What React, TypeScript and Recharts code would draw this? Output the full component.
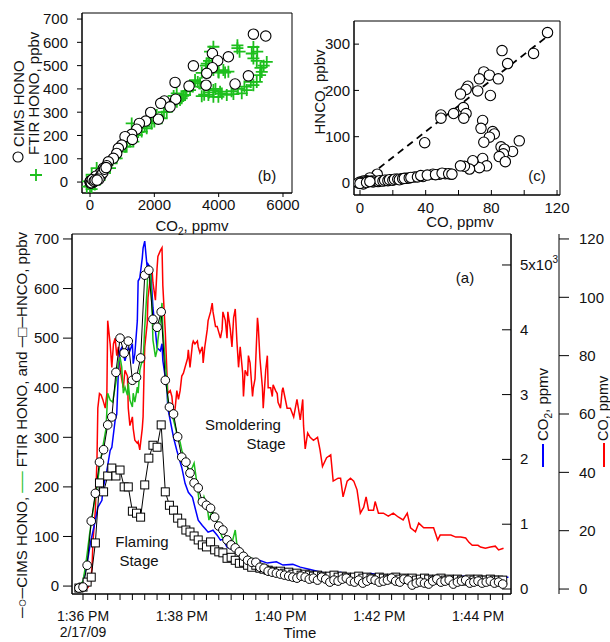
import React from "react"
import {
  LineChart,
  Line,
  ScatterChart,
  Scatter,
  XAxis,
  YAxis,
  ReferenceArea,
  ReferenceLine,
} from "recharts"

const FONT = "'Liberation Sans', Arial, Helvetica, sans-serif"
const GREEN = "#1dbf1d"
const BLUE = "#0000ff"
const RED = "#ff0000"
const INK = "#111"

// ---- panel (a): seconds after 1:36:00 PM ----
// CIMS HONO and HNCO sampled every 5 s, starting at -5 s
const cimsHono = [
  -4, -2, 42, 131, 187, 250, 275, 325, 341, 431,
  500, 470, 494, 415, 421, 460, 627, 637, 538, 522,
  553, 415, 361, 347, 301, 260, 250, 228, 208, 198,
  170, 163, 157, 139, 121, 113, 93, 83, 77, 69,
  60, 52, 48, 48, 38, 36, 30, 28, 26, 24,
  22, 20, 18, 16, 20, 18, 14, 16, 12, 18,
  14, 8, 12, 10, 14, 16, 10, 8, 12, 6,
  10, 14, 12, 8, 10, 12, 16, 10, 8, 14,
  12, 2, 6, 8, 6, 4, 10, 14, 8, 10,
  12, 4, 8, 10, 12, 6, 8, 10, 6, 8,
  10, 6, 8, 4,
]
const hncoPpbv = [
  -4, -2, 8, 18, 87, 208, 190, 222, 238, 222,
  234, 200, 200, 151, 147, 139, 204, 258, 284, 280,
  325, 190, 163, 153, 137, 127, 113, 109, 101, 93,
  83, 79, 89, 73, 69, 67, 56, 58, 52, 46,
  48, 42, 38, 42, 36, 34, 32, 30, 28, 30,
  26, 28, 24, 26, 22, 24, 22, 20, 22, 20,
  18, 20, 22, 18, 20, 18, 16, 18, 20, 16,
  18, 16, 14, 18, 16, 14, 16, 18, 14, 16,
  14, 16, 12, 14, 16, 14, 12, 14, 16, 12,
  14, 12, 14, 12, 10, 14, 12, 14, 12, 12,
  14, 12, 12, 12,
]

const ftirTime = [
  -5, 0, 3, 5, 8, 12, 17, 20, 24, 28,
  30, 33, 36, 41, 43, 45, 47, 49, 51, 54,
  55, 57, 60, 61, 63, 66, 67, 69, 72, 73,
  75, 78, 79, 82, 84, 85, 88, 90, 91, 94,
  96, 97, 100, 102, 103, 106, 110, 114, 118, 120,
  124, 127, 129, 133, 135, 139, 141, 145, 147, 151,
  153, 157, 159, 163, 166, 169, 172, 175, 178, 181,
  185, 187, 191, 195, 200, 203, 209, 215, 222, 228,
  234, 240, 246, 252, 258, 264, 270, 276, 282, 288,
  294, 300, 306, 312, 318, 324, 330, 336, 342, 348,
  354, 360, 366, 372, 378, 384, 390, 396, 402, 408,
  414, 420, 426, 432, 438, 444, 450, 456, 462, 468,
  474, 480, 486, 492, 498, 504, 510,
]
const ftirHono = [
  0, 10, 40, 65, 105, 150, 200, 240, 280, 318,
  389, 375, 371, 421, 450, 462, 442, 389, 401, 385,
  409, 375, 361, 389, 371, 401, 389, 435, 456, 450,
  522, 603, 643, 637, 550, 496, 462, 476, 496, 536,
  571, 516, 450, 415, 375, 355, 335, 308, 290, 274,
  254, 240, 228, 240, 248, 200, 173, 167, 180, 159,
  133, 153, 147, 133, 113, 99, 93, 99, 93, 87,
  113, 83, 73, 67, 56, 58, 50, 42, 36, 30,
  26, 28, 22, 18, 16, 20, 14, 12, 16, 10,
  14, 8, 12, 16, 10, 8, 12, 6, 10, 14,
  8, 10, 12, 6, 10, 14, 8, 6, 12, 4,
  8, 10, 6, 12, 8, 4, 10, 14, 8, 6,
  10, 12, 6, 8, 12, 6, 8,
]

const co2Time = [
  -4, -1, 5, 9, 15, 18, 23, 24, 29, 33,
  35, 39, 41, 43, 45, 47, 51, 55, 57, 60,
  61, 63, 66, 67, 69, 72, 73, 75, 78, 79,
  82, 84, 85, 88, 90, 94, 96, 97, 100, 102,
  103, 106, 110, 114, 120, 124, 128, 133, 136, 140,
  145, 148, 152, 158, 163, 167, 170, 175, 183, 191,
  203, 215, 224, 235, 243, 255, 264, 276, 292, 305,
  313, 321, 337, 350, 361, 375, 386, 400, 410, 425,
  447, 460, 483, 500, 517,
]
const co2Ppmv = [
  0, 50, 400, 707, 1061, 1261, 1369, 1523, 1830, 2138,
  2184, 2600, 2700, 3368, 3676, 3722, 3522, 3722, 3676, 3784,
  3476, 3630, 4137, 4752, 4800, 5106, 5260, 5368, 4953, 5014,
  4953, 4553, 4337, 3984, 3722, 3676, 3784, 3522, 3261, 3107,
  2800, 2600, 2338, 2138, 1876, 1630, 1492, 1415, 1261, 1061,
  980, 938, 877, 907, 831, 754, 770, 646, 600, 554,
  470, 440, 400, 420, 369, 380, 338, 300, 250, 240,
  260, 230, 225, 240, 215, 210, 200, 205, 195, 200,
  190, 195, 185, 188, 180,
]

const coTime = [
  -5, 6, 9, 11, 12, 15, 17, 18, 20, 22,
  24, 27, 29, 30, 33, 35, 37, 39, 41, 43,
  45, 47, 49, 51, 54, 55, 57, 60, 61, 63,
  66, 67, 69, 72, 73, 74, 75, 78, 79, 82,
  84, 85, 88, 90, 91, 94, 96, 97, 100, 102,
  103, 106, 108, 110, 112, 114, 116, 118, 120, 122,
  124, 127, 128, 130, 133, 134, 136, 139, 140, 142,
  145, 146, 148, 151, 152, 155, 157, 158, 161, 163,
  164, 167, 169, 170, 173, 175, 176, 179, 181, 183,
  185, 187, 189, 191, 194, 195, 197, 200, 201, 203,
  206, 207, 209, 212, 213, 215, 218, 219, 222, 224,
  225, 228, 230, 231, 234, 236, 237, 240, 242, 243,
  248, 252, 256, 260, 264, 267, 268, 270, 273, 276,
  280, 285, 288, 291, 296, 301, 304, 310, 313, 316,
  321, 325, 329, 333, 337, 341, 344, 347, 353, 355,
  359, 365, 371, 377, 383, 389, 394, 398, 404, 408,
  414, 420, 426, 431, 434, 441, 447, 453, 459, 465,
  469, 473, 480, 483, 489, 495, 501, 505, 511,
]
const coPpmv = [
  0, 0.5, 2, 7.5, 16, 27, 45, 62, 67, 66.5,
  65, 62, 67, 92, 84, 76, 84, 86, 80, 83,
  76, 72, 69, 75, 73, 62, 56, 59, 55, 51,
  50, 50.5, 47.7, 55, 59, 72, 83, 91, 100, 107,
  109, 105, 99, 110, 114, 116, 117, 104, 88, 74,
  67, 68, 66, 60, 62, 68, 65, 68, 73, 74,
  76, 79, 82, 76, 84, 85, 84, 85, 83, 81,
  83, 77.5, 83, 89, 92, 95, 98, 95, 90, 90,
  89, 86, 89, 95, 92, 86, 95, 89, 83, 93,
  96, 85, 76, 83, 74, 66, 75, 73, 80, 77.5,
  66, 69, 72, 93, 90, 79, 69, 62, 75, 80,
  69, 69, 66, 70, 68, 67, 64, 62, 68, 69,
  62, 62, 59, 65, 58, 65, 56, 48, 53.5, 52,
  51, 52, 47.7, 42, 45, 46, 37, 38, 38, 31.6,
  37, 38, 37, 34, 26, 28, 31.6, 27, 27, 30,
  26, 26, 25, 26, 24.7, 23.7, 26, 21, 19.6, 22.6,
  21, 21, 21, 16.8, 18.5, 18.5, 18.5, 17.8, 17.8, 17.5,
  16, 15, 15, 14.4, 14, 14.4, 14.7, 13.4, 14,
]

const timeTickValues = [0, 2, 4, 6, 8]
const timeTickLabels = ["1:36 PM", "1:38 PM", "1:40 PM", "1:42 PM", "1:44 PM"]
const dateLabel = "2/17/09"

// ---- panel (b): CO2 ppmv vs HONO ppbv ----
const cimsCo2 = [
  5080, 5464, 3805, 4302, 3970, 3214, 3805, 3629, 4924, 4510,
  3608, 3079, 2644, 2664, 2311, 2198, 2488, 2125, 1887, 1732,
  1534, 1452, 1296, 1089, 1317, 985, 881, 829, 726, 570,
  518, 415, 311, 207, 0, 30, 60, 100, 150, 20,
  50, 80, 120, 200, 250, 180, 90, 10, 40, 70,
  130, 160, 300, 350, 400, 450, 500, 280, 220,
]
const cimsHonoB = [
  635, 627, 552, 538, 521, 499, 491, 467, 456, 421,
  416, 412, 428, 356, 348, 338, 323, 270, 299, 262,
  252, 227, 205, 195, 183, 159, 145, 123, 102, 87,
  70, 59, 37, 23, 0, 5, 8, 12, 18, -5,
  2, 4, 6, 10, 15, 25, -2, 3, -3, 10,
  3, 8, 20, 30, 40, 55, 62, 12, 8,
]
const ftirCo2 = [
  4583, 4583, 5080, 5029, 5080, 5184, 5495, 5340, 5288, 5184,
  5080, 4873, 4718, 4459, 4252, 4044, 3836, 3681, 3474, 3836,
  3991, 3551, 3421, 3836, 3991, 4147, 4302, 3629, 3784, 3836,
  3732, 3474, 3266, 3110, 2955, 2799, 2696, 2592, 2385, 2229,
  2074, 1918, 1763, 1607, 1452, 1296, 1244, 1089, 933, 778,
  622, 466, 311, 155, 0, -104, 52, 207, 363, 622,
  829, 1140, 1348, 2500, 2600, 2300, 2000, 1700, 1500, 1200,
  1000, 700, 500, 400, 250, 100, 3900, 4100, 4400, 4600,
  4800, 5000, 3700, 3550, 3350, 3200, 3000, 2850, 2700, 3600,
  3700, 4200, 4000, 5300, 5200, 5400, 4650, -100, 50, 150,
  300, 2900,
]
const ftirHonoB = [
  575, 587, 580, 552, 531, 520, 516, 473, 459, 430,
  416, 395, 381, 378, 374, 388, 395, 374, 369, 366,
  366, 402, 424, 481, 474, 481, 474, 509, 531, 581,
  560, 469, 438, 395, 374, 352, 381, 338, 302, 274,
  288, 252, 231, 217, 202, 252, 181, 152, 131, 102,
  81, 52, 30, 9, -18, 3, 32, 60, 38, 60,
  102, 152, 174, 330, 370, 300, 260, 240, 215, 190,
  160, 95, 70, 48, 25, 5, 400, 380, 390, 400,
  410, 430, 385, 375, 430, 410, 390, 360, 345, 500,
  520, 470, 470, 490, 560, 500, 560, -20, -30, -10,
  10, 370,
]

// ---- panel (c): CO ppmv vs HNCO ppbv ----
const scatterCo = [
  114.2, 105.7, 86.5, 89.9, 75.4, 78.8, 72.7, 84.2, 65.7, 64.6,
  71.7, 79.4, 61.2, 63, 64.6, 63.2, 57, 49.3, 49.3, 39.4,
  74.7, 73.7, 80.8, 81.8, 78.8, 75.4, 97, 92.9, 85.9, 87.9,
  87.3, 84.8, 88.5, 74.7, 77.1, 72.7, 68.7, 66.7, 63.6, 61.2,
  55.6, 52, 48.5, 44.4, 38.4, 33.3, 28.3, 25.2, 22.2, 19.2,
  16.2, 13.1, 10.1, 10.5, 6, 4, 2, 0, -1, 1,
  3, 5, 7, 8, 9, 11, 12, 14, 15, 17,
  18, 20, 21, 23, 24, 26, 27, 30, 31, 35,
  37, 41, 46, 50, 54, 56, 2, 0, 4, 6,
]
const scatterHnco = [
  325, 280, 286, 258, 240, 233, 225, 225, 209, 202,
  199, 189, 192, 163, 150, 140, 150, 147, 140, 87,
  135, 118, 111, 106, 99, 88, 91, 68, 78, 73,
  63, 57, 46, 53, 37, 33, 48, 30, 36, 37,
  19, 20, 19, 19, 14, 13, 10, 9, 8, 7,
  6, 5, 6, 19, 11, 5, 4, 2, 0, 1,
  2, 3, 4, 2, 4, 3, 5, 4, 6, 5,
  7, 6, 8, 8, 7, 9, 10, 11, 12, 13,
  16, 17, 18, 21, 20, 19, -2, -1, 1, 3,
]
const fitEnd = { co: 117, hnco: 325 }

// domains
const A_X = [-0.223, 8.668]
const A_LEFT = [-16, 710]
const A_CO2 = [-77, 5478]
const A_CO = [-1.7, 121.7]
const B_X = [-249, 6280]
const B_Y = [-47, 726]
const C_X = [-3.65, 121.8]
const C_Y = [-26, 350]

const cimsData = cimsHono.map((v, i) => ({ t: (i * 5 - 5) / 60, v }))
const hncoData = hncoPpbv.map((v, i) => ({ t: (i * 5 - 5) / 60, v }))
const ftirData = ftirTime.map((s, i) => ({ t: s / 60, v: ftirHono[i] }))
const co2Data = co2Time.map((s, i) => ({ t: s / 60, v: co2Ppmv[i] }))
const coData = coTime.map((s, i) => ({ t: s / 60, v: coPpmv[i] }))
const bCims = cimsCo2.map((x, i) => ({ x, y: cimsHonoB[i] }))
const bFtir = ftirCo2.map((x, i) => ({ x, y: ftirHonoB[i] }))
const cPts = scatterCo.map((x, i) => ({ x, y: scatterHnco[i] }))

const timeTicks = Array.from({ length: 35 }, (_, i) => i * 0.25)

const tickStyle = { fontSize: 15, fill: INK }

function TimeTick(props: any) {
  const { x, y, payload } = props
  const i = timeTickValues.indexOf(payload.value)
  if (i < 0) return <g />
  return (
    <g>
      <text x={x} y={y + 21} textAnchor="middle" fontSize={14} fill={INK}>
        {timeTickLabels[i]}
      </text>
      {i === 0 && (
        <text x={x} y={y + 37} textAnchor="middle" fontSize={14} fill={INK}>
          {dateLabel}
        </text>
      )}
    </g>
  )
}

function Co2Tick(props: any) {
  const { x, y, payload } = props
  const k = payload.value / 1000
  return (
    <text x={x} y={y + 5} fontSize={15} fill={INK}>
      {k === 5 ? (
        <>
          5x10<tspan dy={-7} fontSize={10}>3</tspan>
        </>
      ) : (
        k
      )}
    </text>
  )
}

const circleDot = (p: any) => (
  <circle key={`c${p.index}`} cx={p.cx} cy={p.cy} r={4.3} fill="#fff" stroke="#000" strokeWidth={1} />
)
const squareDot = (p: any) => (
  <rect key={`s${p.index}`} x={p.cx - 4} y={p.cy - 4} width={8} height={8} fill="#fff" stroke="#000" strokeWidth={1} />
)
const openCircle = (p: any) => (
  <circle cx={p.cx} cy={p.cy} r={5.2} fill="#fff" stroke="#000" strokeWidth={1.1} />
)
const greenPlus = (p: any) => (
  <path
    d={`M${p.cx - 6},${p.cy}H${p.cx + 6}M${p.cx},${p.cy - 6}V${p.cy + 6}`}
    stroke={GREEN}
    strokeWidth={1.8}
    fill="none"
  />
)

function PanelB() {
  return (
    <ScatterChart width={300} height={215} margin={{ top: 13, right: 8, bottom: 0, left: 0 }}>
      <XAxis
        type="number"
        dataKey="x"
        domain={B_X}
        allowDataOverflow
        ticks={[0, 2000, 4000, 6000]}
        height={22}
        tickSize={4}
        tickMargin={2}
        stroke="#000"
        tick={tickStyle}
      />
      <YAxis
        type="number"
        dataKey="y"
        domain={B_Y}
        allowDataOverflow
        ticks={[0, 100, 200, 300, 400, 500, 600, 700]}
        width={82}
        tickSize={5}
        tickMargin={9}
        stroke="#000"
        tick={tickStyle}
      />
      <ReferenceArea x1={B_X[0]} x2={B_X[1]} y1={B_Y[0]} y2={B_Y[1]} fill="none" stroke="#000" />
      <Scatter data={bFtir} shape={greenPlus} isAnimationActive={false} />
      <Scatter data={bCims} shape={openCircle} isAnimationActive={false} />
    </ScatterChart>
  )
}

function PanelC() {
  return (
    <ScatterChart width={310} height={225} margin={{ top: 21, right: 50, bottom: 0, left: 0 }}>
      <XAxis
        type="number"
        dataKey="x"
        domain={C_X}
        allowDataOverflow
        ticks={[0, 20, 40, 60, 80, 100, 120]}
        interval={0}
        tickFormatter={(v: number) => (v % 40 === 0 ? String(v) : "")}
        height={30}
        tickSize={-5}
        tickMargin={12}
        stroke="#000"
        tick={tickStyle}
      />
      <YAxis
        type="number"
        dataKey="y"
        domain={C_Y}
        allowDataOverflow
        ticks={[0, 100, 200, 300]}
        width={54}
        tickSize={-5}
        tickMargin={9}
        stroke="#000"
        tick={tickStyle}
      />
      <ReferenceArea x1={C_X[0]} x2={C_X[1]} y1={C_Y[0]} y2={C_Y[1]} fill="none" stroke="#000" />
      <ReferenceLine
        segment={[
          { x: 0, y: 0 },
          { x: fitEnd.co, y: fitEnd.hnco },
        ]}
        stroke="#000"
        strokeWidth={1.8}
        strokeDasharray="7 5"
      />
      <Scatter data={cPts} shape={openCircle} isAnimationActive={false} />
    </ScatterChart>
  )
}

function PanelA() {
  return (
    <LineChart width={610} height={422} margin={{ top: 14, right: 11, bottom: 0, left: 0 }}>
      <XAxis
        type="number"
        dataKey="t"
        domain={A_X}
        allowDataOverflow
        ticks={timeTicks}
        interval={0}
        height={48}
        tickSize={6}
        tickMargin={0}
        stroke="#000"
        tick={TimeTick}
      />
      <YAxis
        yAxisId="a_left"
        domain={A_LEFT}
        allowDataOverflow
        ticks={[0, 100, 200, 300, 400, 500, 600, 700]}
        width={72}
        tickSize={9}
        tickMargin={4}
        stroke="#000"
        tick={tickStyle}
      />
      <YAxis
        yAxisId="b_co2"
        orientation="right"
        domain={A_CO2}
        allowDataOverflow
        ticks={[0, 1000, 2000, 3000, 4000, 5000]}
        width={48}
        tickSize={-9}
        tickMargin={18}
        stroke="#000"
        tick={Co2Tick}
      />
      <YAxis
        yAxisId="c_co"
        orientation="right"
        domain={A_CO}
        allowDataOverflow
        ticks={[0, 20, 40, 60, 80, 100, 120]}
        width={40}
        tickSize={10}
        tickMargin={10}
        stroke="#000"
        tick={tickStyle}
      />
      <ReferenceArea yAxisId="a_left" x1={A_X[0]} x2={A_X[1]} y1={A_LEFT[0]} y2={A_LEFT[1]} fill="none" stroke="#000" />
      <Line yAxisId="c_co" data={coData} dataKey="v" stroke={RED} strokeWidth={1.5} dot={false} activeDot={false} isAnimationActive={false} />
      <Line yAxisId="b_co2" data={co2Data} dataKey="v" stroke={BLUE} strokeWidth={1.5} dot={false} activeDot={false} isAnimationActive={false} />
      <Line yAxisId="a_left" data={ftirData} dataKey="v" stroke={GREEN} strokeWidth={1.5} dot={false} activeDot={false} isAnimationActive={false} />
      <Line yAxisId="a_left" data={hncoData} dataKey="v" stroke="#000" strokeWidth={1} dot={squareDot} activeDot={false} isAnimationActive={false} />
      <Line yAxisId="a_left" data={cimsData} dataKey="v" stroke="#000" strokeWidth={1} dot={circleDot} activeDot={false} isAnimationActive={false} />
    </LineChart>
  )
}

function Labels() {
  const t = { fontSize: 15, fill: INK }
  return (
    <svg width={610} height={642} style={{ position: "absolute", left: 0, top: 0, pointerEvents: "none" }}>
      {/* panel (b) y title with symbols */}
      <circle cx={18} cy={157} r={5} fill="#fff" stroke="#000" strokeWidth={1.1} />
      <text transform="rotate(-90)" x={-147} y={24} {...t}>CIMS HONO</text>
      <text transform="rotate(-90)" x={-155} y={39} {...t}>FTIR HONO, ppbv</text>
      <path d="M30,175H42M36,169V181" stroke={GREEN} strokeWidth={1.8} />
      <text x={267} y={181} textAnchor="middle" {...t}>(b)</text>
      <text x={192} y={231} textAnchor="middle" {...t}>
        CO<tspan dy={4} fontSize={10}>2</tspan>
        <tspan dy={-4}>, ppmv</tspan>
      </text>

      {/* panel (c) */}
      <text transform="rotate(-90)" x={-92} y={325} textAnchor="middle" {...t}>HNCO, ppbv</text>
      <text x={537} y={181} textAnchor="middle" {...t}>(c)</text>
      <text x={460} y={227} textAnchor="middle" {...t}>CO, ppmv</text>

      {/* panel (a) */}
      <text transform="rotate(-90)" x={-425} y={27} textAnchor="middle" {...t}>
        <tspan>─○─</tspan>
        <tspan>CIMS HONO, </tspan>
        <tspan fill={GREEN}>──</tspan>
        <tspan> FTIR HONO, and </tspan>
        <tspan>─□─</tspan>
        <tspan>HNCO, ppbv</tspan>
      </text>
      <text x={465} y={283} textAnchor="middle" {...t}>(a)</text>
      <text x={142} y={547} textAnchor="middle" {...t}>Flaming</text>
      <text x={139} y={566} textAnchor="middle" {...t}>Stage</text>
      <text x={243} y={430} textAnchor="middle" {...t}>Smoldering</text>
      <text x={266} y={449} textAnchor="middle" {...t}>Stage</text>
      <text x={300} y={638} textAnchor="middle" {...t}>Time</text>

      <text transform="rotate(-90)" x={-441} y={548} {...t}>
        CO<tspan dy={4} fontSize={10}>2</tspan>
        <tspan dy={-4}>, ppmv</tspan>
      </text>
      <line x1={543} x2={543} y1={444} y2={467} stroke={BLUE} strokeWidth={2} />
      <text transform="rotate(-90)" x={-441} y={608} fontSize={14.5} fill={INK}>CO, ppmv</text>
      <line x1={604} x2={604} y1={443} y2={467} stroke={RED} strokeWidth={2} />
    </svg>
  )
}

export default function App() {
  return (
    <div style={{ position: "absolute", left: 0, top: 0, width: 610, height: 642, background: "#fff", fontFamily: FONT }}>
      <div style={{ position: "absolute", left: 0, top: 220 }}>
        <PanelA />
      </div>
      <div style={{ position: "absolute", left: 0, top: 0 }}>
        <PanelB />
      </div>
      <div style={{ position: "absolute", left: 300, top: 0 }}>
        <PanelC />
      </div>
      <Labels />
    </div>
  )
}
